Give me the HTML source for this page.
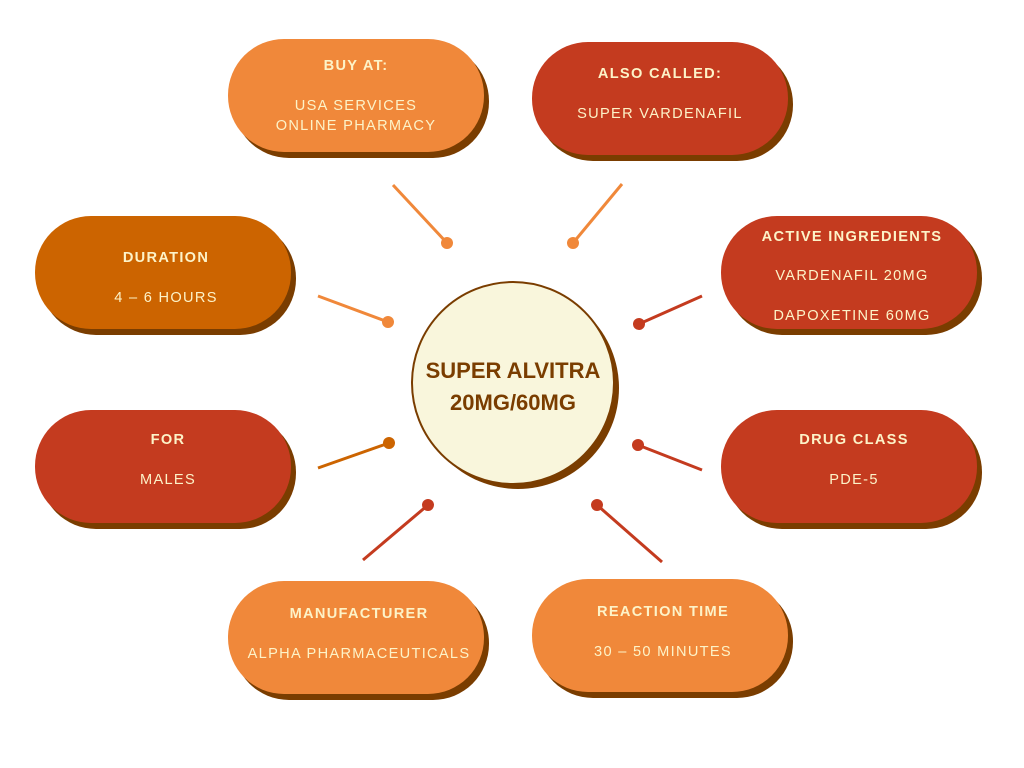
<!DOCTYPE html>
<html><head><meta charset="utf-8"><style>
html,body{margin:0;padding:0;background:#fff;}
svg{display:block}
text{font-family:"Liberation Sans",sans-serif;fill:#fdf3c8;text-anchor:middle;letter-spacing:1.3px;font-size:14.6px}
.h{font-weight:bold}
</style></head><body>
<svg width="1024" height="768" viewBox="0 0 1024 768">
<defs>
<g id="p"><rect x="5" y="6" width="256" height="113" rx="56" fill="#7a3d00"/></g>
</defs>
<g stroke-width="3">
<line x1="393" y1="185" x2="447" y2="243" stroke="#f0883a"/><circle cx="447" cy="243" r="6" fill="#f0883a"/>
<line x1="622" y1="184" x2="573" y2="243" stroke="#f0883a"/><circle cx="573" cy="243" r="6" fill="#f0883a"/>
<line x1="318" y1="296" x2="388" y2="322" stroke="#f0883a"/><circle cx="388" cy="322" r="6" fill="#f0883a"/>
<line x1="702" y1="296" x2="639" y2="324" stroke="#c43b1f"/><circle cx="639" cy="324" r="6" fill="#c43b1f"/>
<line x1="318" y1="468" x2="389" y2="443" stroke="#cc6400"/><circle cx="389" cy="443" r="6" fill="#cc6400"/>
<line x1="702" y1="470" x2="638" y2="445" stroke="#c43b1f"/><circle cx="638" cy="445" r="6" fill="#c43b1f"/>
<line x1="363" y1="560" x2="428" y2="505" stroke="#c43b1f"/><circle cx="428" cy="505" r="6" fill="#c43b1f"/>
<line x1="662" y1="562" x2="597" y2="505" stroke="#c43b1f"/><circle cx="597" cy="505" r="6" fill="#c43b1f"/>
</g>
<circle cx="518" cy="388" r="101" fill="#7a3d00"/>
<circle cx="513" cy="383" r="101" fill="#f9f6dc" stroke="#7a3d00" stroke-width="2"/>
<text x="513" y="378" style="fill:#7a3d00;font-size:22px;font-weight:bold;letter-spacing:0">SUPER ALVITRA</text>
<text x="513" y="410" style="fill:#7a3d00;font-size:22px;font-weight:bold;letter-spacing:0">20MG/60MG</text>
<g transform="translate(228,39)"><use href="#p"/><rect width="256" height="113" rx="56" fill="#f0883a"/>
<text class="h" x="128" y="31">BUY AT:</text><text x="128" y="71">USA SERVICES</text><text x="128" y="91">ONLINE PHARMACY</text></g>
<g transform="translate(532,42)"><use href="#p"/><rect width="256" height="113" rx="56" fill="#c43b1f"/>
<text class="h" x="128" y="36">ALSO CALLED:</text><text x="128" y="76">SUPER VARDENAFIL</text></g>
<g transform="translate(35,216)"><use href="#p"/><rect width="256" height="113" rx="56" fill="#cc6400"/>
<text class="h" x="131" y="46">DURATION</text><text x="131" y="86">4 – 6 HOURS</text></g>
<g transform="translate(721,216)"><use href="#p"/><rect width="256" height="113" rx="56" fill="#c43b1f"/>
<text class="h" x="131" y="25">ACTIVE INGREDIENTS</text><text x="131" y="64">VARDENAFIL 20MG</text><text x="131" y="104">DAPOXETINE 60MG</text></g>
<g transform="translate(35,410)"><use href="#p"/><rect width="256" height="113" rx="56" fill="#c43b1f"/>
<text class="h" x="133" y="34">FOR</text><text x="133" y="74">MALES</text></g>
<g transform="translate(721,410)"><use href="#p"/><rect width="256" height="113" rx="56" fill="#c43b1f"/>
<text class="h" x="133" y="34">DRUG CLASS</text><text x="133" y="74">PDE-5</text></g>
<g transform="translate(228,581)"><use href="#p"/><rect width="256" height="113" rx="56" fill="#f0883a"/>
<text class="h" x="131" y="37">MANUFACTURER</text><text x="131" y="77">ALPHA PHARMACEUTICALS</text></g>
<g transform="translate(532,579)"><use href="#p"/><rect width="256" height="113" rx="56" fill="#f0883a"/>
<text class="h" x="131" y="37">REACTION TIME</text><text x="131" y="77">30 – 50 MINUTES</text></g>
</svg>
</body></html>
